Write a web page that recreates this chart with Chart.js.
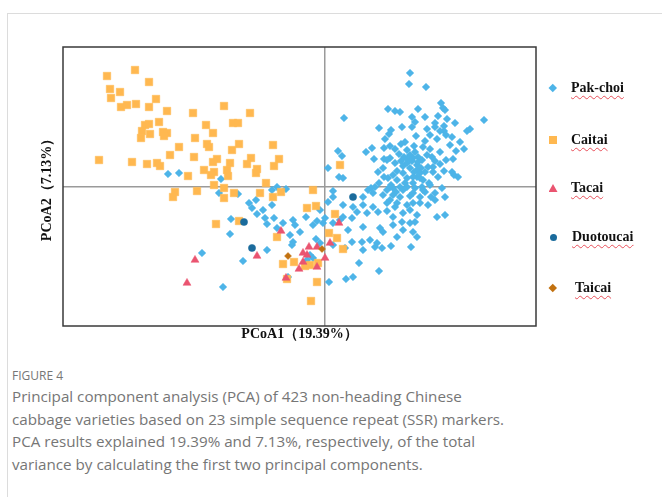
<!DOCTYPE html>
<html>
<head>
<meta charset="utf-8">
<script src="https://cdn.jsdelivr.net/npm/chart.js@4.4.1/dist/chart.umd.min.js"></script>
<style>
  html, body { margin: 0; padding: 0; background: #fff; }
  body { width: 662px; height: 497px; position: relative; overflow: hidden; }
  #card { position: absolute; left: 7px; top: 13px; width: 700px; height: 600px;
          border-top: 1px solid #dcdcdc; border-left: 1px solid #dcdcdc; }
  #wrap { position: absolute; left: 0; top: 0; width: 662px; height: 350px; }
  .leg { position: absolute; left: 0; width: 662px; height: 20px; line-height: 20px;
         font-family: "Liberation Serif", "Times New Roman", serif; font-weight: bold;
         font-size: 14px; color: #111; }
  .leg .lab { position: absolute; top: 0; white-space: nowrap;
              text-decoration: underline wavy #e8505a; text-decoration-thickness: 1px;
              text-underline-offset: 3px; }
  .leg .mk { position: absolute; }
  #caption { position: absolute; left: 12px; top: 366px; width: 645px;
             font-family: "Open Sans", sans-serif; color: #767676; }
  #caption .fig { font-size: 12px; line-height: 19px; }
  #caption .txt { font-size: 15.2px; line-height: 22.5px; }
</style>
</head>
<body>
<div id="card"></div>
<div id="wrap"><canvas id="pca" width="662" height="350"></canvas></div>
<div id="legend"></div>
<div id="caption">
  <div class="fig">FIGURE 4</div>
  <div class="txt">Principal component analysis (PCA) of 423 non-heading Chinese<br>cabbage varieties based on 23 simple sequence repeat (SSR) markers.<br>PCA results explained 19.39% and 7.13%, respectively, of the total<br>variance by calculating the first two principal components.</div>
</div>
<script>
// groups, in legend order
const groups = ['Pak-choi', 'Caitai', 'Tacai', 'Duotoucai', 'Taicai']

// PCoA1 / PCoA2 scores
const pakChoi = [
  [-15.7,1.3],[-14.6,1.4],[-10.4,0.8],[-10.6,-0.6],[-4.8,0.0],[-3.9,-0.2],[0.3,1.9],[1.3,3.6],[1.7,3.1],[1.9,6.9],
  [1.4,1.0],[1.8,0.9],[0.8,-0.4],[0.8,-1.0],[0.3,-1.5],[1.8,-1.8],
  [8.5,11.4],[8.4,10.3],[10.1,10.0],[6.3,7.8],[7.0,7.6],[7.5,7.5],[9.3,7.8],[11.6,8.4],[11.8,7.9],[12.0,7.7],
  [8.7,7.0],[9.0,6.5],[10.0,7.0],[11.3,7.1],[12.2,6.8],[13.0,6.4],[15.9,6.7],[11.0,6.4],[11.0,6.0],[11.9,6.1],
  [11.9,5.6],[11.5,5.6],[5.4,5.9],[6.6,5.7],[7.7,6.0],[8.7,6.0],[6.4,5.3],[9.1,5.1],[10.5,5.2],[12.1,5.2],
  [11.2,4.8],[14.2,5.6],[14.5,5.8],[13.1,3.6],[13.9,3.8],[4.7,3.9],[4.1,3.5],[5.9,3.9],[6.5,4.1],[7.6,4.3],
  [8.0,4.5],[8.2,3.7],[8.9,4.1],[9.8,4.0],[4.9,2.8],[5.9,2.8],[6.5,2.9],[7.4,3.3],[7.9,3.0],[8.5,3.2],
  [8.8,2.9],[9.3,3.0],[10.2,3.2],[10.7,3.0],[12.1,2.7],[12.8,2.8],[6.2,2.7],[5.9,1.0],[5.4,0.4],[6.3,0.9],
  [6.6,0.2],[4.6,-0.1],[7.2,1.6],[7.8,2.1],[8.2,2.4],[8.5,1.9],[9.2,2.2],[9.6,1.9],[10.0,1.5],[10.3,2.0],
  [10.8,1.5],[11.5,2.3],[11.9,1.6],[12.7,1.5],[12.9,1.2],[13.3,1.0],[9.2,1.0],[9.8,0.7],[8.8,0.4],[10.4,0.4],
  [11.7,-0.1],[7.5,0.0],[6.5,0.0],[4.3,-0.3],[4.8,-0.6],[9.0,-0.1],[9.7,0.0],[7.8,1.4],[8.2,0.9],[9.5,0.9],
  [11.3,1.0],[10.8,2.0],[9.2,1.7],[8.8,1.0],[8.7,2.6],[9.3,2.5],[8.2,2.8],[9.7,2.7],[8.9,1.5],[9.5,1.4],
  [7.2,0.7],[8.0,0.4],[7.0,2.4],[5.3,1.5],[5.8,1.9],[5.8,-0.8],[7.1,-0.5],[8.5,-0.9],[6.8,-0.1],
  [10.5,3.8],[11.5,3.5],[12.5,4.2],[10.0,4.6],[9.0,3.5],[7.0,3.8],[6.0,4.8],[10.2,5.8],[12.7,5.0],[13.5,4.5],
  [11.0,2.6],[7.6,2.6],[6.8,1.2],[10.0,-0.5],[10.6,-1.0],[7.0,-2.0],
  [3.8,-1.0],[5.0,0.0],[6.2,-0.3],[6.5,-1.3],[6.8,-0.8],[7.5,-1.0],[7.8,-0.3],[8.2,0.0],[8.8,-0.6],[9.5,-1.0],
  [9.8,-0.3],[10.5,0.2],[11.0,-0.6],[12.0,-1.0],[2.8,-2.0],[3.8,-1.8],[4.8,-2.0],[6.2,-1.6],[7.2,-1.6],[8.2,-1.8],
  [8.8,-1.6],[9.5,-1.6],[10.3,-1.8],[11.0,-1.3],[3.2,-2.5],[4.2,-2.6],[5.3,-2.5],[6.2,-2.4],[6.8,-3.0],[7.8,-2.6],
  [8.5,-2.3],[9.2,-2.8],[12.0,-2.8],[11.2,-3.0],[0.0,-3.1],[1.8,-3.0],[2.7,-3.1],[3.8,-4.0],[5.5,-4.1],[5.8,-4.5],
  [6.8,-3.8],[7.7,-3.5],[8.5,-3.6],[9.0,-3.5],[7.8,-4.3],[8.8,-4.5],[9.2,-5.0],[7.2,-5.0],[2.3,-4.3],[2.7,-5.5],
  [3.7,-5.5],[4.5,-5.3],[5.2,-5.6],[5.0,-6.0],[3.8,-6.3],[5.7,-6.1],[6.6,-5.9],[8.6,-6.0],[3.4,-7.6],[5.4,-8.4],
  [2.1,-9.2],[2.8,-9.0],[0.4,-9.5],[2.0,-6.1],[0.8,-5.8],[-0.2,-3.6],[0.8,-3.6],[1.5,-3.3],
  [-8.7,-0.7],[-7.6,-1.6],[-7.3,-2.1],[-6.9,-1.3],[-6.2,-2.3],[-6.8,-2.7],[-6.0,-3.1],[-5.3,-1.8],[-5.1,-3.1],[-5.8,-3.7],
  [-9.4,-3.2],[-9.5,-4.7],[-12.3,-6.6],[-8.2,-7.4],[-5.8,-6.3],[-10.2,-10.0],[-4.2,-3.6],[-3.2,-3.3],[-3.0,-3.8],[-3.5,-4.8],
  [-2.5,-4.5],[-1.9,-3.0],[-1.2,-3.8],[-0.8,-3.4],[-4.8,-4.1],[-3.2,-5.5],[-3.3,-5.8],[-0.9,-5.2],[-0.5,-5.6],[-1.5,-6.8],
  [-1.2,-7.1],[-1.8,-7.3],[-3.7,-9.0],[-0.5,-2.3],[-5.3,-0.3]
]
const caitai = [
  [-21.8,11.1],[-19.0,11.7],[-17.6,10.5],[-21.5,9.8],[-20.5,9.5],[-21.4,8.9],[-20.4,8.0],[-19.8,8.2],[-18.9,8.3],[-17.6,8.0],
  [-16.9,8.8],[-15.8,7.6],[-13.2,7.4],[-10.1,8.1],[-18.0,6.2],[-17.6,6.3],[-16.6,6.5],[-11.9,6.2],[-9.2,6.4],[-8.7,6.4],
  [-18.3,5.6],[-18.4,4.9],[-17.5,5.3],[-16.2,5.5],[-15.8,5.4],[-16.1,5.1],[-11.2,5.4],[-13.0,4.9],[-11.8,4.3],[-11.6,4.0],
  [-14.6,4.0],[-15.5,3.2],[-9.3,3.7],[-8.6,4.3],[-22.6,2.7],[-19.3,2.5],[-17.8,2.3],[-16.8,2.4],[-16.5,2.1],[-13.1,3.0],
  [-10.8,2.8],[-11.2,2.5],[-9.5,2.4],[-12.1,1.7],[-11.1,1.5],[-11.4,1.2],[-9.8,1.7],[-9.7,1.1],[-13.7,1.1],[-11.1,0.2],
  [-10.1,-0.1],[-15.0,-0.5],[-12.8,-0.4],[-9.1,-0.6],[-7.5,7.4],[-5.2,4.2],[-7.4,2.9],[-7.8,2.3],[-4.6,2.8],[-5.1,2.1],
  [-6.8,1.8],[-6.9,1.4],[1.5,2.2],[-5.9,0.4],[-6.5,-0.6],[-5.2,-1.0],[-4.4,-0.5],[-1.2,-0.3],[-15.2,-1.0],[-10.1,-1.1],
  [-1.8,-2.1],[-0.9,-1.9],[-10.9,-3.7],[-8.6,-3.4],[-4.8,-5.0],[-4.2,-7.7],[-3.1,-7.5],[-2.0,-7.9],[-1.5,-7.8],[-0.7,-7.6],
  [-0.8,-9.5],[-1.4,-11.4],[-3.8,-9.2],[1.0,-2.7],[0.4,-4.6],[1.2,-5.1],[1.8,-6.2]
]
const tacai = [
  [-13.0,-7.3],[-13.8,-9.6],[-6.8,-6.9],[-4.4,-4.4],[-1.6,-6.0],[-0.8,-6.0],[-2.2,-6.6],[-1.8,-6.8],
  [-2.2,-7.5],[-2.6,-8.2],[-0.8,-8.0],[0.0,-7.1],[-3.9,-9.1],[1.4,-3.6],[0.5,-5.6]
]
const duotoucai = [[-8.1,-3.5],[-7.3,-6.1],[2.8,-1.0]]
const taicai = [[-3.7,-6.9],[-0.3,-6.2]]

const series = [pakChoi, caitai, tacai, duotoucai, taicai]

// look of each group
const colors = ['#4db4e8', '#ffb850', '#ea5470', '#1a6b9c', '#c2710f']
const styles = ['rectRot', 'rect', 'triangle', 'circle', 'rectRot']
const radii = [3.8, 5.3, 4.6, 3.6, 3.5]

const boxPlugin = {
  id: 'box',
  afterDraw(chart) {
    const { ctx, chartArea: a } = chart
    ctx.save()
    ctx.strokeStyle = '#3a3a3a'
    ctx.lineWidth = 1.5
    ctx.strokeRect(a.left, a.top, a.right - a.left, a.bottom - a.top)
    ctx.restore()
  }
}

const titleFont = { family: '"Liberation Serif", "Times New Roman", serif', weight: 'bold', size: 14 }

new Chart(document.getElementById('pca'), {
  type: 'scatter',
  data: {
    datasets: groups.map((g, i) => ({
      label: g,
      data: series[i].map(p => ({ x: p[0], y: p[1] })),
      pointStyle: styles[i],
      pointRadius: radii[i],
      backgroundColor: colors[i],
      borderColor: colors[i],
      borderWidth: 0.5,
      order: groups.length - i
    }))
  },
  options: {
    responsive: false,
    animation: false,
    devicePixelRatio: 1,
    layout: { padding: { left: 38.6, right: 126, top: 47, bottom: 7.2 } },
    plugins: { legend: { display: false }, tooltip: { enabled: false } },
    scales: {
      x: {
        type: 'linear', min: -26.2, max: 21.1,
        afterBuildTicks: s => { s.ticks = [{ value: 0 }] },
        ticks: { display: false },
        grid: { drawTicks: false, color: '#9a9a9a', lineWidth: 1.5 },
        border: { display: false },
        title: { display: true, text: 'PCoA1（19.39%）', color: '#111', font: titleFont, padding: { top: 0, bottom: 0 } }
      },
      y: {
        type: 'linear', min: -13.9, max: 14.0,
        afterBuildTicks: s => { s.ticks = [{ value: 0 }] },
        ticks: { display: false },
        grid: { drawTicks: false, color: '#9a9a9a', lineWidth: 1.5 },
        border: { display: false },
        title: { display: true, text: 'PCoA2（7.13%）', color: '#111', font: titleFont, padding: { top: 0, bottom: 7.6 } }
      }
    }
  },
  plugins: [boxPlugin]
})

// html legend, same order and looks as the datasets
const legendRows = [88, 140, 188, 237, 288]
const labelLeft = [571, 571, 571, 572, 575]
const markerX = 553
const legend = document.getElementById('legend')
groups.forEach((g, i) => {
  const row = document.createElement('div')
  row.className = 'leg'
  row.style.top = (legendRows[i] - 10) + 'px'
  const mk = document.createElement('span')
  mk.className = 'mk'
  const s = styles[i]
  let w = 7, h = 7
  if (s === 'rect') { w = 8; h = 8 }
  if (s === 'triangle') { w = 9; h = 8; mk.style.clipPath = 'polygon(50% 0, 100% 100%, 0 100%)' }
  if (s === 'circle') { mk.style.borderRadius = '50%' }
  if (s === 'rectRot') { w = 5.5; h = 5.5; mk.style.transform = 'rotate(45deg)' }
  mk.style.width = w + 'px'
  mk.style.height = h + 'px'
  mk.style.left = (markerX - w / 2) + 'px'
  mk.style.top = (10 - h / 2) + 'px'
  mk.style.background = colors[i]
  const lab = document.createElement('span')
  lab.className = 'lab'
  lab.style.left = labelLeft[i] + 'px'
  lab.textContent = g
  row.appendChild(mk)
  row.appendChild(lab)
  legend.appendChild(row)
})
</script>
</body>
</html>
